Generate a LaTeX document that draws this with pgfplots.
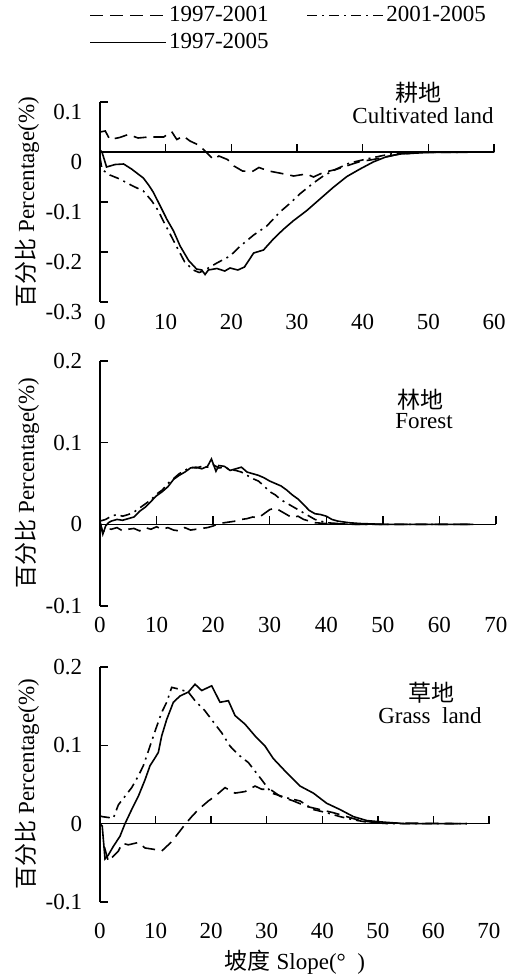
\documentclass[border=0pt]{standalone}
\usepackage{fontspec}
\setmainfont{Liberation Serif}
\newfontfamily\cjk{Noto Sans CJK SC}
\usepackage{pgfplots}
\pgfplotsset{compat=1.18}
\newcommand\bigfont{\fontsize{23}{27}\selectfont}
\pgfplotsset{
  panel/.style={
    scale only axis, anchor=south west, clip=false,
    axis x line=middle, axis y line=left,
    axis line style={-, line width=1.5pt},
    tick style={line width=1.4pt, black},
    major tick length=8pt, tick align=inside,
    hide obscured x ticks=false, hide obscured y ticks=false,
    font=\bigfont,
    yticklabel style={anchor=east, xshift=-10pt},
    every axis plot/.append style={line width=1.6pt, black},
  },
  dsh/.style={dash pattern=on 13pt off 7pt},
  ddot/.style={dash pattern=on 10pt off 5pt on 2pt off 5pt},
}
\begin{document}
\bigfont
\begin{tikzpicture}
\path[use as bounding box] (0pt,0pt) rectangle (532pt,-975pt);

% Cultivated land
\begin{axis}[panel, at={(100pt,-302pt)}, width=394pt, height=200pt,
  xmin=0, xmax=60, ymin=-0.3, ymax=0.1,
  xtick={0,10,...,60}, xticklabels={0,10,20,30,40,50,60},
  ytick={-0.3,-0.2,-0.1,0,0.1}, yticklabels={-0.3,-0.2,-0.1,0,0.1},
  xticklabel style={anchor=north, yshift=-154pt},
  yticklabel style={yshift=-10pt},
  legend columns=2,
  legend style={at={(-0.035,1.5)}, anchor=north west, draw=none, fill=none,
    font=\bigfont, nodes={inner sep=2pt}, row sep=4pt,
    /tikz/every even column/.append style={column sep=36pt}},
  legend image code/.code={\draw[#1] (0pt,0pt) -- (76pt,0pt);},
  legend cell align=left,
]
\addplot[dsh] coordinates {(0,0.04) (0.8,0.042) (1.5,0.025) (3,0.029) (4.3,0.035) (5.8,0.028) (7.4,0.03) (9.7,0.03) (10.9,0.041) (11.7,0.025) (12.7,0.032) (13.7,0.022) (15,0.014) (16,0.002) (17.3,-0.015) (18.1,-0.008) (19.4,-0.015) (20.4,-0.028) (21.7,-0.038) (23.2,-0.039) (24.2,-0.031) (25.7,-0.038) (27.7,-0.043) (29.5,-0.048) (30.4,-0.046) (31.5,-0.044) (32.5,-0.05) (34,-0.041) (35.9,-0.035) (37.5,-0.028) (39.6,-0.019) (41.6,-0.015) (43.6,-0.01) (45.2,-0.005) (47.7,-0.002) (50,0) (60,0)};
\addlegendentry{1997-2001}
\addplot[ddot] coordinates {(0,-0.01) (0.3,-0.035) (1.5,-0.046) (3,-0.054) (5,-0.068) (6.6,-0.078) (7.9,-0.098) (8.9,-0.118) (9.6,-0.137) (10.4,-0.157) (11.7,-0.19) (12.9,-0.22) (14.2,-0.236) (15.1,-0.241) (15.7,-0.238) (16.5,-0.232) (17.8,-0.222) (19.8,-0.208) (21.3,-0.189) (23.4,-0.166) (25.4,-0.148) (27.4,-0.12) (28.9,-0.103) (30.5,-0.083) (32.5,-0.062) (34,-0.048) (36,-0.034) (38,-0.022) (40.6,-0.014) (43.1,-0.007) (44.7,-0.003) (47,-0.001) (60,0)};
\addlegendentry{2001-2005}
\addplot[solid] coordinates {(0,0.004) (0.3,0.0) (1,-0.03) (2.3,-0.025) (3.6,-0.024) (4.8,-0.034) (5.7,-0.043) (6.6,-0.052) (7.4,-0.066) (8.1,-0.08) (9.1,-0.106) (10.2,-0.135) (11.2,-0.158) (12.2,-0.188) (13.5,-0.217) (14.7,-0.234) (15.5,-0.236) (16,-0.245) (16.5,-0.236) (17.8,-0.233) (19,-0.238) (19.8,-0.232) (21,-0.236) (22,-0.23) (23.4,-0.202) (24.9,-0.196) (26.4,-0.174) (27.9,-0.155) (29.4,-0.138) (31.5,-0.117) (33.5,-0.094) (35.5,-0.071) (37.6,-0.049) (39.6,-0.034) (41.6,-0.02) (43.7,-0.009) (45.7,-0.004) (49.7,-0.001) (60,0)};
\addlegendentry{1997-2005}
\end{axis}

% Forest
\begin{axis}[panel, at={(100pt,-606pt)}, width=396pt, height=245pt,
  xmin=0, xmax=70, ymin=-0.1, ymax=0.2,
  xtick={0,10,...,70}, xticklabels={0,10,20,30,40,50,60,70},
  ytick={-0.1,0,0.1,0.2}, yticklabels={-0.1,0,0.1,0.2},
  xticklabel style={anchor=north, yshift=-85pt},
]
\addplot[dsh] coordinates {(0,0.003) (0.5,-0.01) (1,-0.005) (2,-0.006) (3,-0.004) (4,-0.008) (5,-0.006) (6,-0.005) (7,-0.008) (8,-0.004) (9,-0.006) (10,-0.003) (11,-0.006) (12,-0.004) (13,-0.007) (14,-0.008) (15,-0.004) (16,-0.007) (17,-0.006) (18,-0.005) (19,-0.004) (20,-0.002) (21,0.001) (22,0.002) (23,0.003) (24,0.004) (25,0.006) (26,0.007) (27,0.009) (28,0.008) (29,0.013) (30,0.018) (31,0.02) (32,0.016) (33,0.012) (34,0.008) (35,0.01) (36,0.006) (37,0.004) (38,0.002) (40,0.001) (45,0) (66,0)};
\addplot[ddot] coordinates {(0,0.004) (1,0.006) (2,0.01) (3,0.012) (4,0.01) (5,0.012) (6,0.015) (7,0.02) (8,0.025) (9,0.03) (10,0.037) (11,0.042) (12,0.05) (13,0.056) (14,0.062) (15,0.066) (16,0.07) (17,0.069) (18,0.071) (19,0.07) (20,0.073) (21,0.069) (22,0.07) (23,0.067) (24,0.066) (25,0.064) (26,0.06) (27,0.056) (28,0.053) (29,0.047) (30,0.04) (31,0.036) (32,0.03) (33,0.026) (34,0.022) (35,0.018) (36,0.014) (37,0.01) (38,0.006) (39,0.004) (40,0.002) (42,0.001) (45,0) (66,0)};
\addplot[solid] coordinates {(0,0.003) (0.5,-0.012) (1,-0.002) (1.5,0.002) (2,0.004) (3,0.006) (4,0.005) (5,0.007) (6,0.009) (7,0.016) (8,0.021) (9,0.028) (10,0.035) (11,0.04) (12,0.046) (13,0.055) (14,0.06) (15,0.064) (16,0.069) (17,0.07) (18,0.068) (19,0.071) (19.7,0.08) (20.5,0.065) (21,0.072) (22,0.071) (23,0.066) (24,0.068) (25,0.07) (26,0.064) (27,0.062) (28,0.06) (29,0.057) (30,0.053) (31,0.05) (32,0.047) (33,0.042) (34,0.036) (35,0.031) (36,0.024) (37,0.017) (38,0.013) (39,0.012) (40,0.01) (41,0.006) (42,0.004) (44,0.002) (46,0.001) (50,0) (66,0)};
\end{axis}

% Grass land
\begin{axis}[panel, at={(100pt,-902pt)}, width=389pt, height=235pt,
  xmin=0, xmax=70, ymin=-0.1, ymax=0.2,
  xtick={0,10,...,70}, xticklabels={0,10,20,30,40,50,60,70},
  ytick={-0.1,0,0.1,0.2}, yticklabels={-0.1,0,0.1,0.2},
  xticklabel style={anchor=north, yshift=-92pt},
]
\addplot[dsh] coordinates {(0.8,-0.03) (1.5,-0.048) (3.3,-0.035) (4,-0.025) (5.1,-0.027) (6.9,-0.024) (8.1,-0.031) (9.9,-0.033) (11.1,-0.035) (12.9,-0.023) (14.1,-0.012) (15.3,-0.001) (16.5,0.009) (17.7,0.018) (19.5,0.029) (20.7,0.035) (22.5,0.046) (24.3,0.039) (26.1,0.041) (27.9,0.048) (29.1,0.044) (30.6,0.044) (32.4,0.035) (34.8,0.029) (37.2,0.022) (39.6,0.018) (42,0.014) (44.4,0.009) (46.8,0.004) (50,0.001) (66,0)};
\addplot[ddot] coordinates {(0,0.01) (0.4,0.009) (2.4,0.007) (3.3,0.024) (4.5,0.035) (5.7,0.046) (6.9,0.061) (7.8,0.074) (9,0.099) (9.9,0.118) (11.1,0.142) (12,0.155) (12.9,0.174) (14.1,0.172) (15.9,0.168) (17.1,0.157) (18.9,0.144) (20.7,0.127) (21.9,0.116) (23.4,0.099) (24.9,0.088) (26.7,0.078) (27.9,0.067) (29.1,0.056) (30.9,0.039) (33.6,0.033) (36,0.029) (38.4,0.018) (40.8,0.014) (43.2,0.009) (45.6,0.005) (48,0.002) (52,0) (66,0)};
\addplot[solid] coordinates {(0,0) (0.4,-0.003) (0.9,-0.045) (1.5,-0.04) (2.4,-0.029) (3.6,-0.016) (4.5,0) (5.7,0.018) (6.9,0.035) (8.1,0.056) (9,0.074) (9.9,0.084) (10.5,0.091) (11.1,0.112) (12,0.133) (13.2,0.155) (14.4,0.163) (15.9,0.168) (17.1,0.178) (18.3,0.17) (20.1,0.176) (21.6,0.155) (23.1,0.157) (24.3,0.138) (26.1,0.127) (27.9,0.112) (29.7,0.099) (31.2,0.083) (33.6,0.065) (36,0.048) (38.4,0.039) (40.8,0.026) (43.2,0.018) (45.6,0.009) (48,0.004) (51,0.002) (55,0) (66,0)};
\end{axis}

% titles and labels
\node at (418pt,-93pt) {\cjk 耕地};
\node at (423pt,-116pt) {Cultivated land};
\node at (420pt,-400pt) {\cjk 林地};
\node at (424pt,-421pt) {Forest};
\node at (431pt,-693pt) {\cjk 草地};
\node at (430pt,-716pt) {Grass\hspace{0.5em}land};
\node[rotate=90] at (27pt,-202pt) {{\cjk 百分比} Percentage(\%)};
\node[rotate=90] at (27pt,-483pt) {{\cjk 百分比} Percentage(\%)};
\node[rotate=90] at (27pt,-784pt) {{\cjk 百分比} Percentage(\%)};
\node at (295pt,-962pt) {{\cjk 坡度} Slope(°\ \ )};
\end{tikzpicture}
\end{document}
